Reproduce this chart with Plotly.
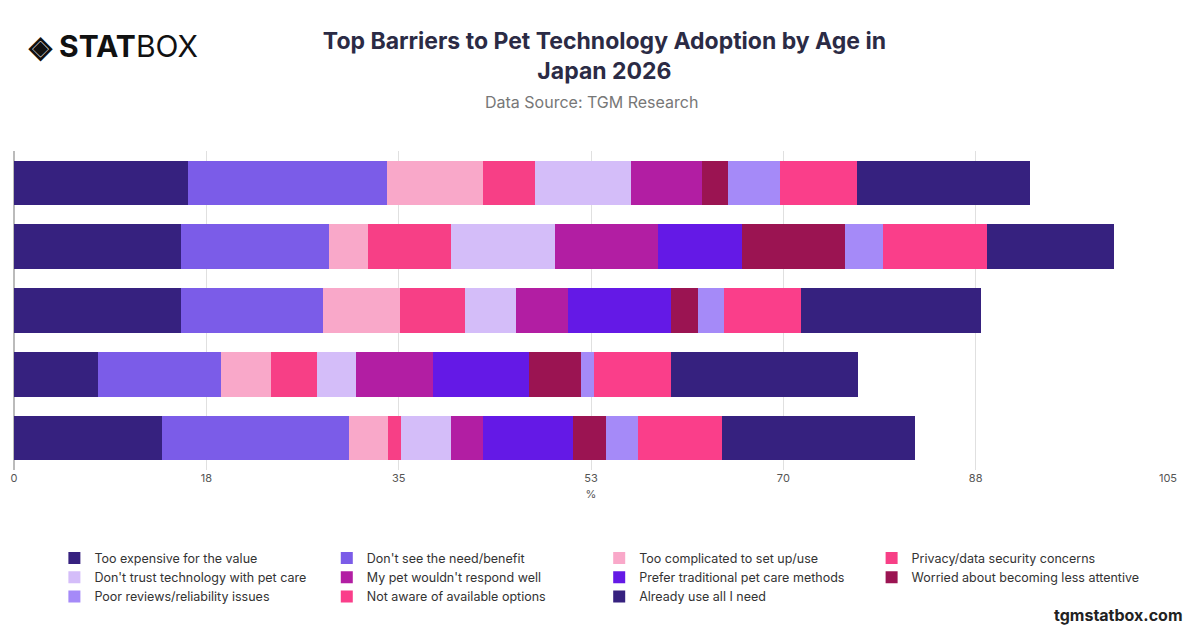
import plotly.graph_objects as go

groups = ["18-24", "25-34", "35-44", "45-54", "55+"]
series = ["Too expensive for the value", "Don't see the need/benefit", "Too complicated to set up/use",
          "Privacy/data security concerns", "Don't trust technology with pet care", "My pet wouldn't respond well",
          "Prefer traditional pet care methods", "Worried about becoming less attentive",
          "Poor reviews/reliability issues", "Not aware of available options", "Already use all I need"]
values = [
    [15.8, 15.2, 15.2, 7.6, 13.5],
    [18.1, 13.5, 12.9, 11.2, 17.0],
    [8.8, 3.5, 7.0, 4.6, 3.5],
    [4.7, 7.6, 5.9, 4.2, 1.2],
    [8.7, 9.4, 4.7, 3.5, 4.6],
    [6.5, 9.4, 4.7, 7.0, 2.9],
    [0.0, 7.6, 9.4, 8.8, 8.2],
    [2.4, 9.4, 2.4, 4.7, 3.0],
    [4.7, 3.5, 2.4, 1.2, 2.9],
    [7.0, 9.4, 7.0, 7.0, 7.6],
    [15.7, 11.6, 16.4, 17.0, 17.6],
]
colors = ["#36217f", "#7b5ce8", "#f9a8c9", "#f73f86", "#d4bdf9", "#b21ea3",
          "#6419e6", "#9b1452", "#a58af8", "#fa3e8a", "#36217f"]
tickvals = [0, 17.5, 35, 52.5, 70, 87.5, 105]
ticktext = ["0", "18", "35", "53", "70", "88", "105"]

fig = go.Figure()
for s, v, c in zip(series, values, colors):
    fig.add_trace(go.Bar(y=groups, x=v, name=s, orientation="h", marker=dict(color=c, line=dict(width=0))))

fig.update_layout(
    barmode="stack", bargap=0.3, width=1200, height=628,
    plot_bgcolor="white", paper_bgcolor="white",
    font=dict(family="Inter, Open Sans, sans-serif", color="#333"),
    margin=dict(l=6, r=40, t=143, b=166, autoexpand=False),
    title=dict(text="<b>Top Barriers to Pet Technology Adoption by Age in<br>Japan 2026</b>",
               x=0.497, xanchor="center", yref="container", y=0.935, yanchor="top",
               font=dict(size=23, color="#2b2b45")),
    xaxis=dict(range=[0, 105], tickvals=tickvals, ticktext=ticktext, showgrid=True, gridcolor="#e0e0e0",
               zeroline=True, zerolinecolor="#bbb", title=dict(text="%", font=dict(size=11, color="#555"), standoff=6),
               tickfont=dict(size=11, color="#555")),
    yaxis=dict(autorange="reversed", showticklabels=False, showgrid=False),
    legend=dict(orientation="h", x=0.035, xanchor="left", y=-0.23, yanchor="top",
                font=dict(size=12.5, color="#333"), traceorder="normal", entrywidth=0),
    showlegend=True,
)
fig.add_annotation(text="Data Source: TGM Research", xref="paper", yref="paper", x=0.5, y=1.155,
                   xanchor="center", yanchor="middle", showarrow=False, font=dict(size=16, color="#777"))
fig.add_annotation(text="<b>◈ STAT</b>BOX", xref="paper", yref="paper", x=0.01, y=1.33,
                   xanchor="left", yanchor="middle", showarrow=False, font=dict(size=30, color="#111"))
fig.add_annotation(text="<b>tgmstatbox.com</b>", xref="paper", yref="paper", x=1.015, y=-0.455,
                   xanchor="right", yanchor="middle", showarrow=False, font=dict(size=16, color="#222"))
fig.write_html("out.html")
